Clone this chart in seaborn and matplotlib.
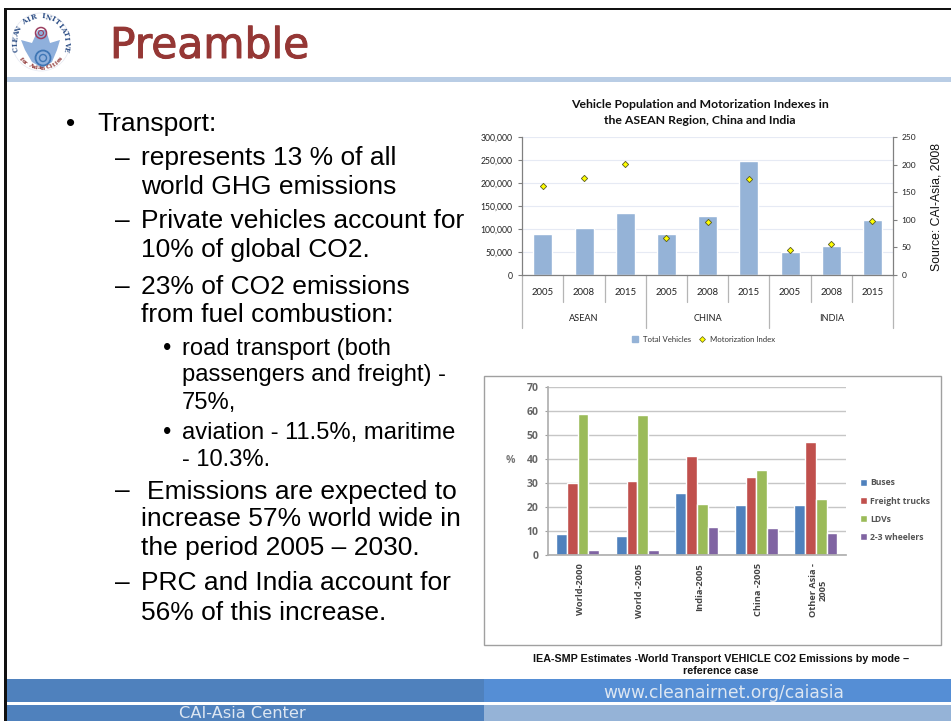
import numpy as np
import pandas as pd
import matplotlib
matplotlib.use('Agg')
import matplotlib.pyplot as plt
import matplotlib.patheffects as pe
from matplotlib.lines import Line2D
from matplotlib.patches import Circle, Polygon, Rectangle
from matplotlib.transforms import ScaledTranslation
import seaborn as sns

# Data of the upper chart
regions = ['ASEAN', 'CHINA', 'INDIA']
years = ['2005', '2008', '2015']
total_vehicles = [90000, 103000, 136000, 90000, 129000, 249000, 51000, 64000, 120000]
motor_index = [161, 176, 201, 68, 96, 174, 45, 57, 98]

# Data of the lower chart
places = ['World-2000', 'World -2005', 'India-2005', 'China -2005', 'Other Asia -\n2005']
buses = [8.7, 8.0, 26.0, 21.0, 20.8]
freight_trucks = [30.0, 31.0, 41.5, 32.5, 47.2]
ldvs = [59.0, 58.3, 21.3, 35.3, 23.5]
wheelers = [2.2, 2.2, 11.5, 11.3, 9.0]

sns.set_theme(style='white')
plt.rcParams['font.family'] = ['Liberation Sans', 'DejaVu Sans']

W, H = 951, 721
fig = plt.figure(figsize=(W / 100, H / 100), dpi=100, facecolor='white')


def axes_px(left, top, right, bottom):
    return fig.add_axes([left / W, 1 - bottom / H, (right - left) / W, (bottom - top) / H])


# Slide background in pixel coordinates
bg = fig.add_axes([0, 0, 1, 1])
bg.set_xlim(0, W)
bg.set_ylim(H, 0)
bg.axis('off')


def band(x0, y0, x1, y1, color, **kw):
    bg.add_patch(Rectangle((x0, y0), x1 - x0, y1 - y0, facecolor=color, edgecolor='none', **kw))


band(5, 8, W, 10, '#111111')
band(4, 8, 7, H, '#111111')
band(7, 77, W, 82, '#b9cde5')
band(7, 679, 484, 702, '#4f81bd')
band(484, 679, W, 702, '#558ed5')
band(7, 705, 484, H, '#4f81bd')
band(484, 705, W, H, '#95b3d7')

bg.text(110, 46, 'Preamble', family='DejaVu Sans', fontsize=30.5, color='#953735', va='center',
        path_effects=[pe.withStroke(linewidth=0.7, foreground='#953735')])
bg.text(603, 692.5, 'www.cleanairnet.org/caiasia', family='DejaVu Sans', fontsize=12.3, color='#dce6f2', va='center')
bg.text(179, 713, 'CAI-Asia Center', family='DejaVu Sans', fontsize=11.7, color='#dce6f2', va='center')

# Logo
bg.add_patch(Circle((41, 42), 29, facecolor='white', edgecolor='#e4e7f0', lw=0.5))
bg.add_patch(Polygon([(21, 40), (32, 43), (38, 30), (46, 30), (50, 43), (60, 40), (57, 50), (52, 62), (42, 68),
                      (32, 62), (25, 50)], facecolor='#8fb0dc', edgecolor='none'))
bg.add_patch(Circle((43, 58), 7.5, facecolor='none', edgecolor='#3f76b5', lw=1.3))
bg.add_patch(Circle((43, 58), 3.5, facecolor='none', edgecolor='#3f76b5', lw=1.0))
bg.add_patch(Circle((41, 33), 5.5, facecolor='none', edgecolor='#9c3f60', lw=1.1))
bg.add_patch(Circle((41, 33), 2.5, facecolor='none', edgecolor='#9c3f60', lw=0.8))
ring = 'CLEAN AIR INITIATIVE'
for ch, ang in zip(ring, np.linspace(195, -15, len(ring))):
    a = np.radians(ang)
    bg.text(41 + 25.5 * np.cos(a), 42 - 25.5 * np.sin(a), ch, fontsize=4.9, fontweight='bold', color='#2e4f86',
            family='DejaVu Serif', rotation=ang - 90, ha='center', va='center')
low = 'for Asian Cities'
for ch, ang in zip(low, np.linspace(220, 320, len(low))):
    a = np.radians(ang)
    bg.text(41 + 26 * np.cos(a), 42 - 26 * np.sin(a), ch, fontsize=4.2, fontweight='bold', color='#8a2e2e',
            family='DejaVu Serif', rotation=ang + 90, ha='center', va='center')

# Bulleted text
big, small = 19, 17.1
body = [
    (66, 122, '•', big), (97.5, 122, 'Transport:', big),
    (115, 157, '–', big), (141, 157, 'represents 13 % of all', big), (141, 186, 'world GHG emissions', big),
    (115, 219, '–', big), (141, 219, 'Private vehicles account for', big), (141, 248, '10% of global CO2.', big),
    (115, 285, '–', big), (141, 285, '23% of CO2 emissions', big), (141, 314, 'from fuel combustion:', big),
    (163, 348, '•', small), (182, 348, 'road transport (both', small), (182, 374, 'passengers and freight) -', small),
    (182, 401, '75%,', small),
    (163, 431, '•', small), (182, 431, 'aviation - 11.5%, maritime', small), (182, 458, '- 10.3%.', small),
    (115, 490, '–', big), (147, 490, 'Emissions are expected to', big), (141, 518, 'increase 57% world wide in', big),
    (141, 547, 'the period 2005 – 2030.', big),
    (115, 581, '–', big), (141, 581, 'PRC and India account for', big), (141, 611, '56% of this increase.', big),
]
for x, y, s, size in body:
    bg.text(x, y + 1.5, s, fontsize=size, color='black', va='center')

# Upper chart
chart_font = ['Lato', 'DejaVu Sans']
bars = [f'{r} {y}' for r in regions for y in years]
df_top = pd.DataFrame({'bar': bars, 'total': total_vehicles, 'index': motor_index})

ax = axes_px(522.3, 137.3, 893, 275)
sns.barplot(data=df_top, x='bar', y='total', color='#95b3d7', saturation=1, width=0.46, ax=ax, zorder=2)
ax.set_ylim(0, 300000)
ax.set_yticks(np.arange(0, 300001, 50000))
ax.set_yticklabels([f'{v:,}' for v in range(0, 300001, 50000)], family=chart_font, fontsize=6.2, color='#222222')
ax.set_xticks(range(len(bars)))
ax.set_xticklabels([])
ax.set_xlabel('')
ax.set_ylabel('')
ax.grid(axis='y', color='#e6eaf4', lw=0.8)
ax.set_axisbelow(True)
ax.tick_params(axis='y', length=3, width=0.8, color='#808080', pad=4, left=True)
ax.tick_params(axis='x', length=0)
for s in ['top', 'right']:
    ax.spines[s].set_visible(False)
for s in ['left', 'bottom']:
    ax.spines[s].set_color('#808080')
    ax.spines[s].set_linewidth(0.9)

ax2 = ax.twinx()
sns.pointplot(data=df_top, x='bar', y='index', linestyle='none', marker='D', markersize=3.2, color='#ffff00',
              markeredgecolor='#5a5a20', markeredgewidth=0.6, errorbar=None, ax=ax2, zorder=5)
ax2.set_ylim(0, 250)
ax2.set_yticks(np.arange(0, 251, 50))
ax2.set_yticklabels(range(0, 251, 50), family=chart_font, fontsize=6.0, color='#222222')
ax2.set_xlabel('')
ax2.set_ylabel('')
ax2.grid(False)
ax2.tick_params(axis='y', length=3, width=0.8, color='#808080', pad=3, right=True)
for s in ['top', 'left', 'bottom']:
    ax2.spines[s].set_visible(False)
ax2.spines['right'].set_color('#808080')
ax2.spines['right'].set_linewidth(0.9)
ax.set_xlim(-0.5, len(bars) - 0.5)

# Two level category axis
trans = ax.get_xaxis_transform()
short_sep = -27 / 137.7
long_sep = -53 / 137.7
for i in range(len(bars) + 1):
    end = long_sep if i % 3 == 0 else short_sep
    ax.plot([i - 0.5, i - 0.5], [0, end], transform=trans, color='#b5b5b5', lw=0.9, clip_on=False)
for i, b in enumerate(bars):
    ax.text(i, -17 / 137.7, b.split()[1], transform=trans, family=chart_font, fontsize=6.9, color='#222222',
            ha='center', va='center')
for i, r in enumerate(regions):
    ax.text(3 * i + 1, -43.5 / 137.7, r, transform=trans, family=chart_font, fontsize=6.6, color='#222222',
            ha='center', va='center')

handles = [Line2D([], [], marker='s', linestyle='none', color='#95b3d7', markersize=4),
           Line2D([], [], marker='D', linestyle='none', markerfacecolor='#ffff00', markeredgecolor='#5a5a20',
                  markeredgewidth=0.5, markersize=3)]
fig.legend(handles, ['Total Vehicles', 'Motorization Index'], loc='center', bbox_to_anchor=(701 / W, 1 - 339 / H),
           ncol=2, frameon=False, prop={'family': chart_font, 'size': 5.6}, handletextpad=0.0, columnspacing=0.4,
           labelcolor='#333333')

bg.text(700, 104, 'Vehicle Population and Motorization Indexes in', family=chart_font, fontsize=8.8,
        fontweight='bold', color='#111111', ha='center', va='center')
bg.text(700, 120, 'the ASEAN Region, China and India', family=chart_font, fontsize=8.8,
        fontweight='bold', color='#111111', ha='center', va='center')
bg.text(936.5, 207, 'Source: CAI-Asia, 2008', fontsize=8.8, color='#111111', rotation=90, ha='center', va='center')

# Lower chart
bg.add_patch(Rectangle((483.5, 375.5), 457.5, 269, facecolor='white', edgecolor='#a0a0a0', lw=1))

df_low = pd.DataFrame({'place': places, 'Buses': buses, 'Freight trucks': freight_trucks,
                       'LDVs': ldvs, '2-3 wheelers': wheelers})
df_low = df_low.melt(id_vars='place', var_name='mode', value_name='share')

ax3 = axes_px(548, 387.3, 845.7, 555)
palette = ['#4f81bd', '#c0504d', '#9bbb59', '#8064a2']
sns.barplot(data=df_low, x='place', y='share', hue='mode', palette=palette, saturation=1, width=0.72, gap=0,
            ax=ax3, zorder=2)
ax3.set_ylim(0, 70)
ax3.set_yticks(np.arange(0, 71, 10))
ax3.set_xlim(-0.5, len(places) - 0.5)
ax3.tick_params(axis='y', labelsize=7.5, labelcolor='#666666', length=2, width=0.8, color='#a0a0a0', pad=5, left=True)
ax3.tick_params(axis='x', labelsize=6.7, labelcolor='#444444', length=0, pad=6)
plt.setp(ax3.get_xticklabels(), rotation=90, family='Open Sans', fontweight='bold', ha='center', va='top',
         linespacing=1.15)
for label in ax3.get_xticklabels():
    label.set_transform(label.get_transform() + ScaledTranslation(2.5 / 100, 0, fig.dpi_scale_trans))
plt.setp(ax3.get_yticklabels(), family='Open Sans', fontweight='bold')
ax3.set_xlabel('')
ax3.set_ylabel('%', rotation=0, fontsize=7.5, color='#777777', fontweight='bold', family='Open Sans', va='center')
ax3.yaxis.set_label_coords(-0.125, 0.566)
ax3.grid(axis='y', color='#c6c6c6', lw=1)
ax3.set_axisbelow(True)
for s in ['top', 'right']:
    ax3.spines[s].set_visible(False)
for s in ['left', 'bottom']:
    ax3.spines[s].set_color('#b0b0b0')
ax3.legend(loc='center left', bbox_to_anchor=(1.035, 0.268), frameon=False, title=None, handlelength=0.8,
           handleheight=0.8, handletextpad=0.3, labelspacing=1.05, borderpad=0,
           prop={'family': 'Open Sans', 'size': 6.2, 'weight': 'bold'}, labelcolor='#555555')

bg.text(721, 659, 'IEA-SMP Estimates -World Transport VEHICLE CO2 Emissions by mode –', fontsize=7.75,
        fontweight='bold', color='#111111', ha='center', va='center')
bg.text(721, 671.5, 'reference case', fontsize=7.75, fontweight='bold', color='#111111', ha='center', va='center')

fig.savefig('out.png', dpi=100)
plt.close(fig)
